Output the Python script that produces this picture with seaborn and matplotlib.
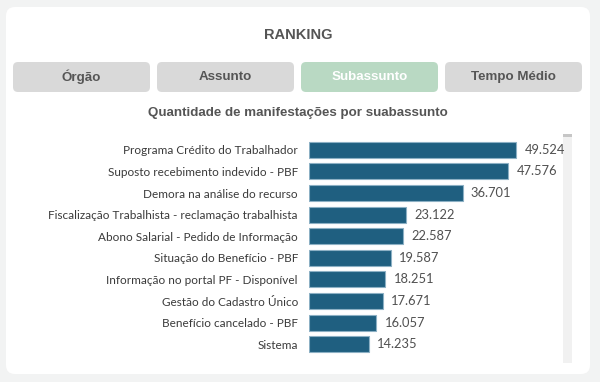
import numpy as np
import pandas as pd
import matplotlib.pyplot as plt
import seaborn as sns
from matplotlib.patches import FancyBboxPatch, Rectangle

subassuntos = ['Programa Crédito do Trabalhador', 'Suposto recebimento indevido - PBF',
               'Demora na análise do recurso', 'Fiscalização Trabalhista - reclamação trabalhista',
               'Abono Salarial - Pedido de Informação', 'Situação do Benefício - PBF',
               'Informação no portal PF - Disponível', 'Gestão do Cadastro Único',
               'Benefício cancelado - PBF', 'Sistema']
quantidade = [49524, 47576, 36701, 23122, 22587, 19587, 18251, 17671, 16057, 14235]
botoes = ['Órgão', 'Assunto', 'Subassunto', 'Tempo Médio']
botao_ativo = 'Subassunto'

df = pd.DataFrame({'subassunto': subassuntos, 'quantidade': quantidade})

sns.set_style('white')
plt.rcParams['font.family'] = ['Lato', 'DejaVu Sans']

fig = plt.figure(figsize=(6, 3.82), dpi=100, facecolor='#f2f3f3')

# fundo em coordenadas de pixel
bg = fig.add_axes([0, 0, 1, 1])
bg.set_xlim(0, 600)
bg.set_ylim(382, 0)
bg.axis('off')
bg.add_patch(FancyBboxPatch((6, 7), 584, 367, boxstyle='round,pad=0,rounding_size=9',
                            facecolor='white', edgecolor='none'))
bg.text(298, 35, 'RANKING', ha='center', va='center', fontsize=10.5,
        color='#555555', family='Liberation Sans', fontweight='bold')

x0 = 13
for nome in botoes:
    ativo = nome == botao_ativo
    bg.add_patch(FancyBboxPatch((x0, 62), 137, 30, boxstyle='round,pad=0,rounding_size=5',
                                facecolor='#b9d9c3' if ativo else '#d9d9d9', edgecolor='none'))
    bg.text(x0 + 68.5, 77, nome, ha='center', va='center', fontsize=9.6, fontweight='bold',
            family='Liberation Sans', color='white' if ativo else '#555555')
    x0 += 144

bg.text(298, 113, 'Quantidade de manifestações por suabassunto', ha='center', va='center',
        fontsize=9.6, fontweight='bold', family='Liberation Sans', color='#555555')

# barra de rolagem
bg.add_patch(Rectangle((563, 134), 9, 229, facecolor='#f1f1f1', edgecolor='none'))
bg.add_patch(Rectangle((563, 134), 9, 2.5, facecolor='#c6c6c6', edgecolor='none'))

ax = fig.add_axes([309 / 600, 1 - 355 / 382, 251 / 600, 216 / 382])
ax.patch.set_alpha(0)
sns.barplot(data=df, x='quantidade', y='subassunto', orient='h', color='#1f5f80',
            saturation=1, width=0.74, edgecolor='#8cb0c4', linewidth=0.8, ax=ax)
ax.set_xlim(0, 60000)
ax.set_xlabel('')
ax.set_ylabel('')
ax.set_xticks([])
sns.despine(ax=ax, left=True, bottom=True)
ax.tick_params(axis='y', length=0, pad=8, labelsize=8.5, labelcolor='#3a3a3a')

rotulos = [f'{v:,}'.replace(',', '.') for v in quantidade]
ax.bar_label(ax.containers[0], labels=rotulos, padding=6, fontsize=9.3, color='#505050')

fig.savefig('out.png', dpi=100, facecolor=fig.get_facecolor())
